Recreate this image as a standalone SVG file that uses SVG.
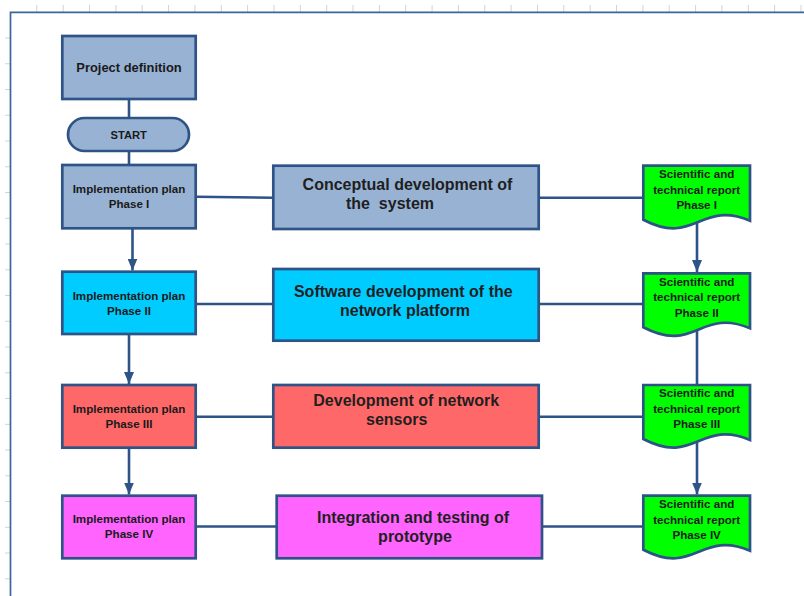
<svg xmlns="http://www.w3.org/2000/svg" width="804" height="596" viewBox="0 0 804 596">
<style>
.box{stroke:#2e5386;stroke-width:2.7}
.blue{fill:#98b2d4}
.cyan{fill:#00ccff}
.red{fill:#ff6868}
.mag{fill:#ff64ff}
.green{fill:#00ff00}
.con{stroke:#2e5386;stroke-width:2.6;fill:none}
.sm{font-family:"Liberation Sans",Arial,sans-serif;font-weight:bold;font-size:11.6px;fill:#1a1a1a;text-anchor:middle}
.big{font-family:"Liberation Sans",Arial,sans-serif;font-weight:bold;font-size:16px;fill:#1f1f1f;text-anchor:middle;white-space:pre}
.tick{stroke:#d2d2d2;stroke-width:1}
</style>
<defs>
<marker id="arr" viewBox="0 0 12 10" refX="12" refY="5" markerWidth="12" markerHeight="10" markerUnits="userSpaceOnUse" orient="auto">
<path d="M0,0 L12,5 L0,10 Z" fill="#2e5386"/>
</marker>
<path id="doc" d="M0,0 H106.7 V55 C56.7,34 51.7,81 0,54 Z"/>
</defs>
<rect width="804" height="596" fill="#ffffff"/>
<g id="frame">
<g class="tick">
<path d="M36.8,5V12M63.2,5V12M89.5,5V12M115.9,5V12M142.2,5V12M168.6,5V12M194.9,5V12M221.3,5V12M247.6,5V12M274,5V12M300.3,5V12M326.7,5V12M353,5V12M379.4,5V12M405.7,5V12M432.1,5V12M458.4,5V12M484.8,5V12M511.1,5V12M537.5,5V12M563.8,5V12M590.2,5V12M616.5,5V12M642.9,5V12M669.2,5V12M695.6,5V12M721.9,5V12M748.3,5V12M774.6,5V12M801,5V12"/>
<path d="M5,38H10M5,63.8H10M5,89.5H10M5,115.3H10M5,141H10M5,166.8H10M5,192.5H10M5,218.3H10M5,244H10M5,269.8H10M5,295.5H10M5,321.3H10M5,347H10M5,372.8H10M5,398.5H10M5,424.3H10M5,450H10M5,475.8H10M5,501.5H10M5,527.3H10M5,553H10M5,578.8H10"/>
</g>
<path d="M10.5,596V12.3H804" fill="none" stroke="#3d64a0" stroke-width="1.7"/>
</g>
<g id="connectors">
<path class="con" d="M129,99V118"/>
<path class="con" d="M129,151V165"/>
<path class="con" d="M132.5,228V270.5" marker-end="url(#arr)"/>
<path class="con" d="M129,334V384" marker-end="url(#arr)"/>
<path class="con" d="M129,447.7V494.5" marker-end="url(#arr)"/>
<path class="con" d="M196,196.7L273.3,197.7"/>
<path class="con" d="M538.7,197.7H643.3"/>
<path class="con" d="M196,304H273.3"/>
<path class="con" d="M538.7,304H643.3"/>
<path class="con" d="M196,416.7H273.3"/>
<path class="con" d="M538.7,416.7H643.3"/>
<path class="con" d="M196,526.5H276.7"/>
<path class="con" d="M542,526.5H643.3"/>
<path class="con" d="M697,222V272" marker-end="url(#arr)"/>
<path class="con" d="M697,330V385"/>
<path class="con" d="M697,441V494.5" marker-end="url(#arr)"/>
</g>
<g id="project-definition">
<rect class="box blue" x="62.3" y="36" width="133.4" height="63"/>
<text class="sm" x="129" y="71.7" style="font-size:12.9px">Project definition</text>
</g>
<g id="start">
<rect class="box blue" x="68" y="118" width="121" height="33" rx="16.5"/>
<text class="sm" x="128.7" y="139.3" style="font-size:11.2px">START</text>
</g>
<g id="plan-1">
<rect class="box blue" x="62.3" y="165" width="133.4" height="63.3"/>
<text class="sm" x="129" y="192.7">Implementation plan</text>
<text class="sm" x="129" y="207.7">Phase I</text>
</g>
<g id="plan-2">
<rect class="box cyan" x="62.3" y="271.7" width="133.4" height="62.3"/>
<text class="sm" x="129" y="300">Implementation plan</text>
<text class="sm" x="129" y="315">Phase II</text>
</g>
<g id="plan-3">
<rect class="box red" x="62.3" y="385" width="133.4" height="62.7"/>
<text class="sm" x="129" y="413.3">Implementation plan</text>
<text class="sm" x="129" y="428.3">Phase III</text>
</g>
<g id="plan-4">
<rect class="box mag" x="62.3" y="495.7" width="133.4" height="62.6"/>
<text class="sm" x="129" y="523.3">Implementation plan</text>
<text class="sm" x="129" y="538.3">Phase IV</text>
</g>
<g id="conceptual">
<rect class="box blue" x="273.3" y="165.7" width="265.4" height="63.3"/>
<text class="big" x="407.5" y="190">Conceptual development of</text>
<text class="big" x="390" y="209.3">the  system</text>
</g>
<g id="software">
<rect class="box cyan" x="273.3" y="269" width="265.4" height="71.7"/>
<text class="big" x="403.3" y="296.7">Software development of the</text>
<text class="big" x="405" y="315.7">network platform</text>
</g>
<g id="sensors">
<rect class="box red" x="273.3" y="385" width="265.4" height="62.7"/>
<text class="big" x="406.2" y="406">Development of network</text>
<text class="big" x="396.7" y="425">sensors</text>
</g>
<g id="integration">
<rect class="box mag" x="276.7" y="495.7" width="265.3" height="62.6"/>
<text class="big" x="413" y="523.3">Integration and testing of</text>
<text class="big" x="415" y="541.7">prototype</text>
</g>
<g id="report-1">
<use href="#doc" class="box green" transform="translate(643.3,165.7)"/>
<text class="sm" x="696.7" y="178.3">Scientific and</text>
<text class="sm" x="696.7" y="194">technical report</text>
<text class="sm" x="696.7" y="209.3">Phase I</text>
</g>
<g id="report-2">
<use href="#doc" class="box green" transform="translate(643.3,273.3)"/>
<text class="sm" x="696.7" y="285.6">Scientific and</text>
<text class="sm" x="696.7" y="301.3">technical report</text>
<text class="sm" x="696.7" y="316.6">Phase II</text>
</g>
<g id="report-3">
<use href="#doc" class="box green" transform="translate(643.3,385)"/>
<text class="sm" x="696.7" y="397.3">Scientific and</text>
<text class="sm" x="696.7" y="413.3">technical report</text>
<text class="sm" x="696.7" y="428.3">Phase III</text>
</g>
<g id="report-4">
<use href="#doc" class="box green" transform="translate(643.3,495.7)"/>
<text class="sm" x="696.7" y="507.8">Scientific and</text>
<text class="sm" x="696.7" y="523.5">technical report</text>
<text class="sm" x="696.7" y="538.8">Phase IV</text>
</g>
</svg>
